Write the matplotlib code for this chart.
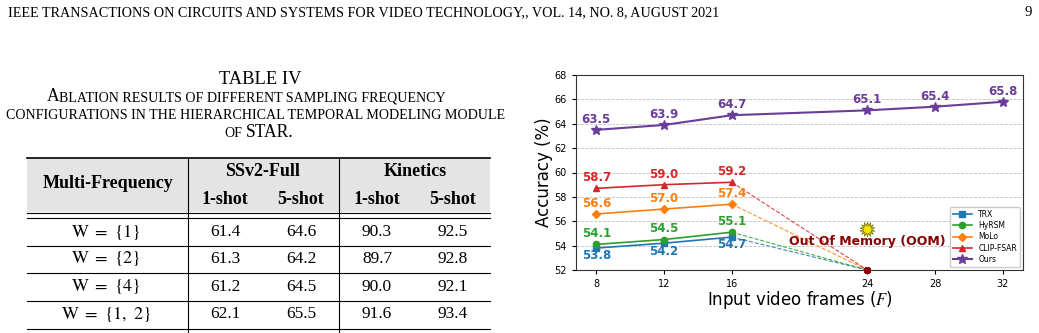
import numpy as np
import matplotlib
matplotlib.use("Agg")
import matplotlib.pyplot as plt

plt.rcParams["mathtext.fontset"] = "stix"

# ---- chart data ----
frames = [8, 12, 16, 24, 28, 32]
short_frames = [8, 12, 16]
oom_frame = 24
oom_level = 52
methods = ["TRX", "HyRSM", "MoLo", "CLIP-FSAR"]
method_acc = [
    [53.8, 54.2, 54.7],
    [54.1, 54.5, 55.1],
    [56.6, 57.0, 57.4],
    [58.7, 59.0, 59.2],
]
ours_acc = [63.5, 63.9, 64.7, 65.1, 65.4, 65.8]
colors = ["#1f77b4", "#2ca02c", "#ff7f0e", "#d62728"]
markers = ["s", "o", "D", "^"]
ours_color = "#6a3d9a"

# ---- table data ----
row_labels = [r"$\mathrm{W}\ =\ \{1\}$", r"$\mathrm{W}\ =\ \{2\}$",
              r"$\mathrm{W}\ =\ \{4\}$", r"$\mathrm{W}\ =\ \{1,\ 2\}$"]
table_vals = [
    ["61.4", "64.6", "90.3", "92.5"],
    ["61.3", "64.2", "89.7", "92.8"],
    ["61.2", "64.5", "90.0", "92.1"],
    ["62.1", "65.5", "91.6", "93.4"],
]
datasets = ["SSv2-Full", "Kinetics"]
shots = ["1-shot", "5-shot", "1-shot", "5-shot"]

header = "IEEE TRANSACTIONS ON CIRCUITS AND SYSTEMS FOR VIDEO TECHNOLOGY,, VOL. 14, NO. 8, AUGUST 2021"
serif = "Liberation Serif"

W, H = 1039, 333
fig = plt.figure(figsize=(W / 100, H / 100), dpi=100)
bg = fig.add_axes([0, 0, 1, 1])
bg.set_xlim(0, W)
bg.set_ylim(H, 0)
bg.axis("off")
renderer = fig.canvas.get_renderer()


def text_width(s, size):
    t = bg.text(0, 0, s, fontsize=size, family=serif)
    w = t.get_window_extent(renderer).width
    t.remove()
    return w


def fit_size(s, size, width):
    return size * width / text_width(s, size)


def place_pieces(pieces, y, base, xc):
    # pieces: list of (text, relative size, gap after in units of small space)
    space = text_width("x x", base * 0.8) - text_width("xx", base * 0.8)
    widths = [text_width(s, base * r) for s, r, g in pieces]
    total = sum(widths) + space * sum(g for _, _, g in pieces)
    x = xc - total / 2
    for (s, r, g), w in zip(pieces, widths):
        bg.text(x, y, s, fontsize=base * r, family=serif, va="baseline")
        x += w + g * space


# page header
hs = fit_size(header, 8, 705)
bg.text(8, 16, header, fontsize=hs, family=serif, va="baseline")
bg.text(1032, 16, "9", fontsize=hs * 1.05, family=serif, va="baseline", ha="right")

# caption
bg.text(260, 84, "TABLE IV", fontsize=fit_size("TABLE IV", 9, 82), family=serif,
        va="baseline", ha="center")
line2 = "CONFIGURATIONS IN THE HIERARCHICAL TEMPORAL MODELING MODULE"
cs = fit_size(line2, 9, 496)
bg.text(256, 119, line2, fontsize=cs, family=serif, va="baseline", ha="center")
base = cs / 0.8
place_pieces([("A", 1, 0), ("BLATION RESULTS OF DIFFERENT SAMPLING FREQUENCY", 0.8, 0)],
             101, base, 246)
place_pieces([("OF", 0.8, 1), ("STAR.", 1, 0)], 137, base, 259)

# table
left, right, v1, v2 = 27, 490, 188, 339
bg.add_patch(plt.Rectangle((left, 158), right - left, 54, color="#e4e4e4", lw=0))
bg.plot([left, right], [158, 158], color="k", lw=1.2)
bg.plot([left, right], [212.5, 212.5], color="k", lw=0.8)
bg.plot([left, right], [217.5, 217.5], color="k", lw=0.8)
for yl in [245.5, 273, 300.5, 328.5]:
    bg.plot([left, right], [yl, yl], color="k", lw=0.8)
for xv in [v1, v2]:
    bg.plot([xv, xv], [158, H], color="k", lw=0.8)

hdr = dict(family=serif, fontsize=13, fontweight="bold", ha="center", va="center")
bg.text(108, 184, "Multi-Frequency", **hdr)
bg.text(263, 171, datasets[0], **hdr)
bg.text(415, 171, datasets[1], **hdr)
col_x = [225, 301, 377, 453]
for cx, s in zip(col_x, shots):
    bg.text(cx, 199, s, **hdr)

cell = dict(family=serif, fontsize=12.5, ha="center", va="center")
row_y = [232, 259, 287, 314]
for ry, lab, vals in zip(row_y, row_labels, table_vals):
    bg.text(106, ry, lab, family=serif, fontsize=13, ha="center", va="center")
    for cx, v in zip(col_x, vals):
        bg.text(cx, ry, v, **cell)

# chart
ax = fig.add_axes([576 / W, 1 - 270 / H, (1023 - 576) / W, (270 - 75) / H])
for name, acc, c, m in zip(methods, method_acc, colors, markers):
    ax.plot(short_frames, acc, color=c, marker=m, lw=1.2, ms=4.5, label=name, zorder=3)
    ax.plot([short_frames[-1], oom_frame], [acc[-1], oom_level], color=c, ls="--", lw=0.8,
            alpha=0.85, zorder=2)
    below = name == "TRX"
    for xv, yv in zip(short_frames, acc):
        ax.annotate(f"{yv:.1f}", (xv, yv), xytext=(0, -1 if below else 3), textcoords="offset points",
                    ha="center", va="top" if below else "bottom", color=c, fontsize=8.5,
                    fontweight="bold", zorder=4)

ax.plot(frames, ours_acc, color=ours_color, marker="*", lw=1.5, ms=7, label="Ours", zorder=3)
for xv, yv in zip(frames, ours_acc):
    ax.annotate(f"{yv:.1f}", (xv, yv), xytext=(0, 3), textcoords="offset points",
                ha="center", va="bottom", color=ours_color, fontsize=8.5, fontweight="bold")

ax.plot([oom_frame] * len(methods), [oom_level] * len(methods), ls="none", marker="X", ms=4,
        color="#8b0000", clip_on=False, zorder=5)
ax.plot([oom_frame], [55.4], ls="none", marker=(14, 1, 0), ms=11, mfc="#f5e400", mec="#6b6b00",
        mew=0.5, zorder=5)
ax.text(oom_frame, 54.3, "Out Of Memory (OOM)", ha="center", va="center", color="#8b0000",
        fontsize=9, fontweight="bold")

ax.set_ylim(52, 68)
ax.set_yticks(np.arange(52, 69, 2))
ax.set_xticks(frames)
ax.tick_params(labelsize=7, length=3)
for sp in ax.spines.values():
    sp.set_color("#333333")
ax.yaxis.grid(True, ls="--", color="#c0c0c0", lw=0.6)
ax.set_axisbelow(True)
ax.set_ylabel("Accuracy (%)", fontsize=12, labelpad=1)
ax.set_xlabel("Input video frames ($\\mathit{F}$)", fontsize=12, labelpad=0)
ax.legend(loc="lower right", fontsize=5.5, handlelength=2.5, borderaxespad=0.4, framealpha=1,
          labelspacing=0.3)

fig.savefig("out.png", dpi=100)
